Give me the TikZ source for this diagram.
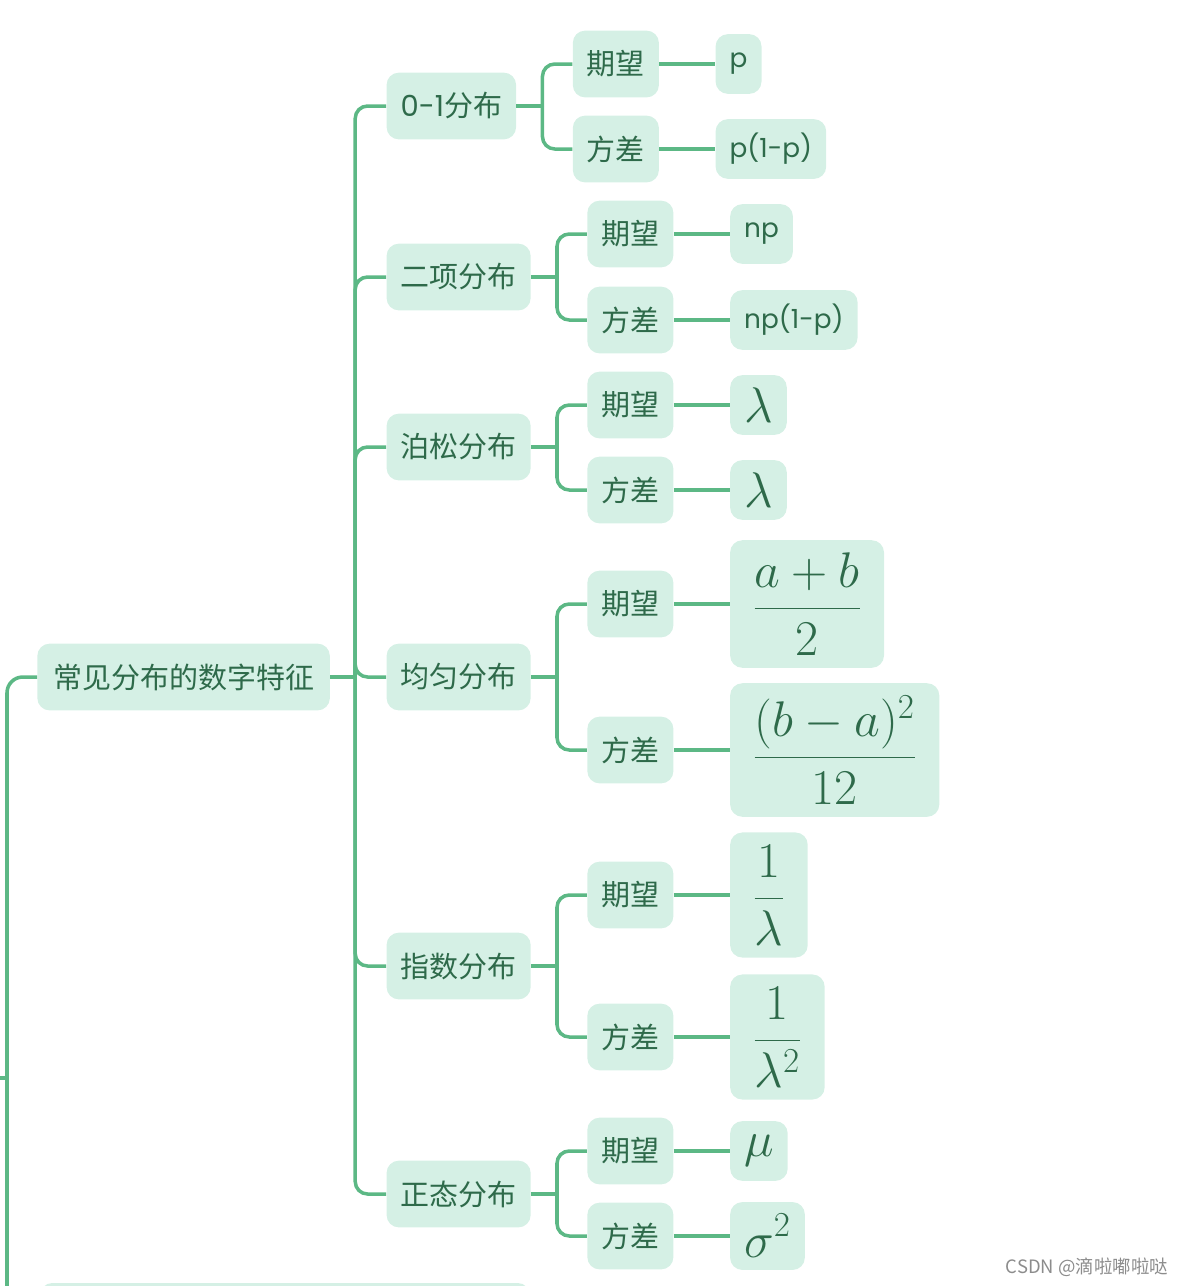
\RequirePackage{fix-cm}
\documentclass[tikz,border=0pt]{standalone}
\usepackage[no-math]{fontspec}
\setmainfont{Noto Sans CJK SC}
\newfontfamily\latin{Poppins}

\definecolor{mapfill}{HTML}{D5F0E5}
\definecolor{mapline}{HTML}{5CB885}
\definecolor{maptext}{HTML}{2E6A4A}

\newcommand{\valmath}[1]{{\fontsize{28.5}{33}\selectfont$\displaystyle #1$}}
\newcommand{\valfrac}[2]{\valmath{\,\frac{#1}{#2}\,}}
\newcommand{\valtext}[1]{{\latin\fontsize{15}{18}\selectfont #1}}

\begin{document}
\begin{tikzpicture}[
  x=0.02cm, y=-0.02cm,
  topic/.style={fill=mapfill, text=maptext, rounded corners=7pt, anchor=west,
    inner xsep=8pt, minimum height=38pt, font=\fontsize{16.5}{20}\selectfont},
  rootbox/.style={topic, inner xsep=9pt},
  leaf/.style={topic, inner ysep=7pt, minimum height=34pt},
  link/.style={draw=mapline, line width=2pt, rounded corners=7pt}
]
\useasboundingbox (0,0) rectangle (1188,1286);

% ---- root and the branch coming in from the left ----
\node[rootbox] (root) at (37,677) {常见分布的数字特征};
\coordinate (lowend) at (7,1330);
\coordinate (upper) at (-30,1078);
\coordinate (upjoin) at (7,1078);
\draw[link, rounded corners=9pt] (root.west) -| (lowend);
\draw[link] (upper) -- (upjoin);
\fill[mapfill, rounded corners=7pt] (40,1283) rectangle (530,1340);

\draw[link] (root.east) -- ++(25,0) coordinate (trunk);

% ---- distributions: name/label/y/y mean/y variance/mean/variance ----
\foreach \d/\lab/\yd/\ye/\yv/\mean/\var in {
  zo/{{\latin 0-1}分布}/106/64/149/{\valtext{p}}/{\valtext{p(1-p)}},
  bi/二项分布/277/234/320/{\valtext{np}}/{\valtext{np(1-p)}},
  po/泊松分布/447/405/490/{\valmath{\lambda}}/{\valmath{\lambda}},
  un/均匀分布/677/604/750/{\valfrac{a+b}{2}}/{\valfrac{(b-a)^2}{12}},
  ex/指数分布/966/895/1037/{\valfrac{1}{\lambda}}/{\valfrac{1}{\lambda^2}},
  no/正态分布/1194/1151/1236/{\valmath{\mu}}/{\valmath{\sigma^2}}}
{
  \node[topic, xshift=1.12cm] (\d) at (root.east |- 0,\yd) {\lab};
  \draw[link] (trunk) |- (\d.west);

  \node[topic, xshift=1.12cm] (\d-e) at (\d.east |- 0,\ye) {期望};
  \node[topic, xshift=1.12cm] (\d-v) at (\d.east |- 0,\yv) {方差};
  \draw[link] (\d.east) -- ++(26,0) coordinate (\d-fork);
  \draw[link] (\d-fork) |- (\d-e.west);
  \draw[link] (\d-fork) |- (\d-v.west);

  \node[leaf, xshift=1.12cm] (\d-em) at (\d-e.east |- 0,\ye) {\mean};
  \node[leaf, xshift=1.12cm] (\d-vm) at (\d-v.east |- 0,\yv) {\var};
  \draw[link] (\d-e) -- (\d-em);
  \draw[link] (\d-v) -- (\d-vm);
}

% ---- watermark ----
\node[text=black!45, font=\fontsize{10.5}{12}\selectfont] (mark) at (1087,1267) {CSDN @滴啦嘟啦哒};
\end{tikzpicture}
\end{document}
